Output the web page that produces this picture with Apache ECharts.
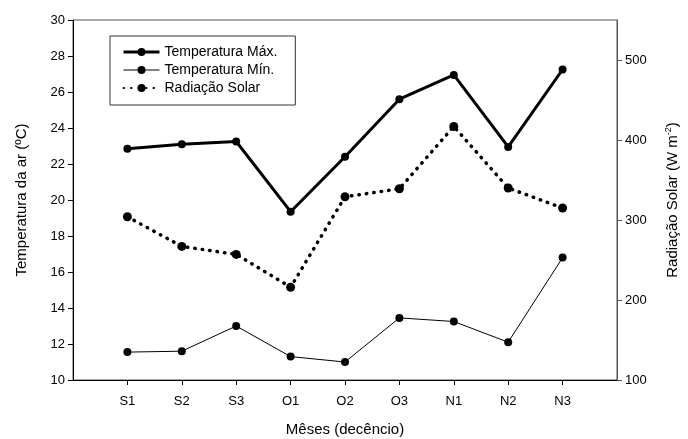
<!DOCTYPE html>
<html><head><meta charset="utf-8">
<script src="https://cdn.jsdelivr.net/npm/echarts@6/dist/echarts.min.js"></script>
<style>html,body{margin:0;padding:0;background:#fff}#c{width:688px;height:439px}</style>
</head><body><div id="c"></div>
<script>
const categories = ['S1','S2','S3','O1','O2','O3','N1','N2','N3'];
const tempMax = [22.85, 23.1, 23.25, 19.35, 22.4, 25.6, 26.95, 22.95, 27.25];
const tempMin = [11.55, 11.6, 13.0, 11.3, 11.0, 13.45, 13.25, 12.1, 16.8];
const radiacao = [304, 267, 257, 216, 329, 339, 417, 340, 315];
const leftTicks = [10,12,14,16,18,20,22,24,26,28,30];
const rightTicks = [100,200,300,400,500];

const pairs = arr => arr.map((v,i)=>[i+1, v]);
const font = 'Liberation Sans, Arial, sans-serif';
const chart = echarts.init(document.getElementById('c'));
chart.setOption({
  animation:false,
  textStyle:{fontFamily:font},
  grid:{left:73,right:71,top:20,bottom:59,show:true,borderColor:'#555',borderWidth:1,
    containLabel:false, outerBoundsMode:'none'},
  legend:{
    left:110, top:36, orient:'vertical', itemGap:4, itemWidth:36, itemHeight:10,
    padding:[9,18,10,12], borderColor:'#333', borderWidth:1,
    textStyle:{fontSize:14, color:'#000', fontFamily:font},
    data:[
      {name:'Temperatura Máx.', lineStyle:{width:3}},
      {name:'Temperatura Mín.', lineStyle:{width:1}},
      {name:'Radiação Solar'}
    ]
  },
  xAxis:{
    type:'value', min:0, max:10, interval:1,
    name:'Mêses (decêncio)', nameLocation:'middle', nameGap:42,
    nameTextStyle:{fontSize:15,color:'#000'},
    axisLine:{lineStyle:{color:'#000'}},
    axisTick:{show:true,length:5,lineStyle:{color:'#000'},
      customValues:[1,2,3,4,5,6,7,8,9]},
    axisLabel:{fontSize:13,color:'#000',margin:15,
      customValues:[1,2,3,4,5,6,7,8,9],
      formatter:v=>categories[v-1]||''},
    splitLine:{show:false}
  },
  yAxis:[{
    type:'value', min:10, max:30, interval:2, position:'left',
    name:'Temperatura da ar (ºC)', nameLocation:'middle', nameGap:44,
    nameTextStyle:{fontSize:15,color:'#000'},
    axisLine:{show:true,lineStyle:{color:'#000'}},
    axisTick:{show:true,length:5,lineStyle:{color:'#000'}},
    axisLabel:{fontSize:13,color:'#000',margin:8},
    splitLine:{show:false}
  },{
    type:'value', min:100, max:550, interval:100, position:'right',
    name:'Radiação Solar (W m{sup|-2})', nameLocation:'middle', nameGap:47, nameRotate:90,
    nameTextStyle:{fontSize:15,color:'#000',rich:{sup:{fontSize:9,verticalAlign:'top',padding:[0,0,8,0],color:'#000'}}},
    axisLine:{show:true,lineStyle:{color:'#555'}},
    axisTick:{show:true,length:5,lineStyle:{color:'#555'},customValues:rightTicks},
    axisLabel:{fontSize:13,color:'#000',margin:8,customValues:rightTicks},
    splitLine:{show:false}
  }],
  series:[{
    name:'Temperatura Máx.', type:'line', yAxisIndex:0, data:pairs(tempMax),
    symbol:'circle', symbolSize:8, itemStyle:{color:'#000'},
    lineStyle:{color:'#000',width:3}
  },{
    name:'Temperatura Mín.', type:'line', yAxisIndex:0, data:pairs(tempMin),
    symbol:'circle', symbolSize:8, itemStyle:{color:'#000'},
    lineStyle:{color:'#000',width:1}
  },{
    name:'Radiação Solar', type:'line', yAxisIndex:1, data:pairs(radiacao),
    symbol:'circle', symbolSize:9, itemStyle:{color:'#000'},
    lineStyle:{color:'#000',width:3.5,type:[0.5,7],cap:'round'}
  }]
});
</script></body></html>
